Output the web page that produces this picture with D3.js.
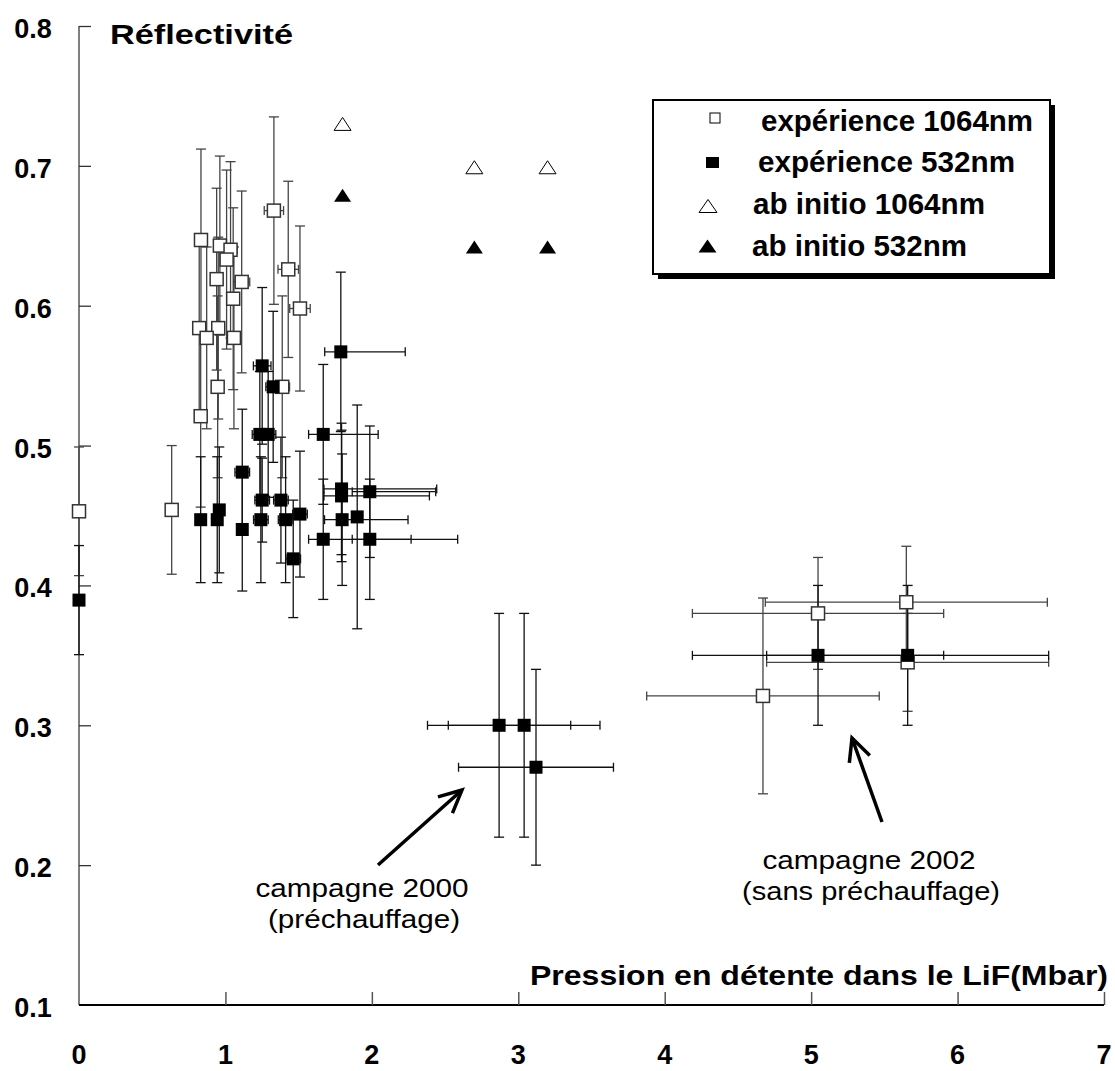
<!DOCTYPE html>
<html><head><meta charset="utf-8">
<script src="https://cdn.jsdelivr.net/npm/d3@7"></script>
<style>html,body{margin:0;padding:0;background:#fff;}svg{display:block;}</style>
</head><body>
<script>
// ---------- data ----------
const exp1064X  = [0, 0.633, 0.833, 0.962, 1.035, 1.008, 0.940, 1.111, 1.053, 1.331, 1.429, 1.509, 0.821, 0.951, 0.872, 1.058, 0.947, 1.388, 0.831, 4.671, 5.047, 5.650, 5.659];
const exp1064Y  = [0.453, 0.454, 0.647, 0.643, 0.640, 0.633, 0.619, 0.617, 0.605, 0.668, 0.626, 0.598, 0.584, 0.584, 0.577, 0.577, 0.542, 0.542, 0.521, 0.321, 0.380, 0.388, 0.345];
const exp1064EY = [0.046, 0.046, 0.065, 0.064, 0.063, 0.064, 0.065, 0.065, 0.065, 0.067, 0.063, 0.059, 0.065, 0.065, 0.065, 0.065, 0.065, 0.065, 0.065, 0.070, 0.040, 0.040, 0.035];
const exp1064EXL = [0, 0, 0, 0, 0.045, 0, 0, 0.055, 0, 0.066, 0.07, 0.07, 0, 0, 0, 0, 0, 0.05, 0, 0.794, 0.858, 0.963, 0.963];
const exp1064EXR = [0, 0, 0, 0, 0.045, 0, 0, 0.055, 0, 0.066, 0.07, 0.07, 0, 0, 0, 0, 0, 0.05, 0, 0.794, 0.858, 0.963, 0.963];

const exp532X  = [0, 0.831, 0.944, 0.958, 1.115, 1.115, 1.235, 1.292, 1.251, 1.242, 1.251, 1.326, 1.379, 1.411, 1.463, 1.509, 1.668, 1.668, 1.788, 1.793, 1.793, 1.797, 1.900, 1.986, 1.986, 2.869, 3.040, 3.121, 5.047, 5.659];
const exp532Y  = [0.3895, 0.447, 0.447, 0.454, 0.481, 0.440, 0.508, 0.508, 0.557, 0.447, 0.461, 0.542, 0.461, 0.447, 0.419, 0.451, 0.508, 0.433, 0.567, 0.469, 0.464, 0.447, 0.449, 0.467, 0.433, 0.300, 0.300, 0.270, 0.350, 0.350];
const exp532EY = [0.039, 0.045, 0.045, 0.045, 0.045, 0.044, 0.045, 0.045, 0.056, 0.045, 0.030, 0.054, 0.045, 0.045, 0.042, 0.045, 0.050, 0.043, 0.057, 0.047, 0.047, 0.047, 0.080, 0.047, 0.043, 0.080, 0.080, 0.070, 0.050, 0.050];
const exp532EXL = [0, 0, 0, 0, 0.05, 0, 0.052, 0, 0.06, 0.05, 0.05, 0.05, 0.05, 0.05, 0.05, 0.05, 0.10, 0.10, 0.11, 0.12, 0.12, 0.12, 0, 0.12, 0.12, 0.489, 0.518, 0.529, 0.858, 0.963];
const exp532EXR = [0, 0, 0, 0, 0.05, 0, 0, 0.052, 0.06, 0.05, 0.05, 0.05, 0.05, 0.05, 0.05, 0.05, 0.375, 0.60, 0.44, 0.65, 0.60, 0.45, 0, 0.45, 0.60, 0.489, 0.518, 0.529, 0.858, 0.963];

const abInitio1064X = [1.80, 2.70, 3.20];
const abInitio1064Y = [0.730, 0.699, 0.699];
const abInitio532X  = [1.80, 2.70, 3.20];
const abInitio532Y  = [0.679, 0.642, 0.642];

const xTicks = [0, 1, 2, 3, 4, 5, 6, 7];
const yTicks = [0.1, 0.2, 0.3, 0.4, 0.5, 0.6, 0.7, 0.8];
const legendLabels = ["expérience 1064nm", "expérience 532nm", "ab initio 1064nm", "ab initio 532nm"];

// ---------- drawing ----------
const W = 1115, H = 1071;
const svg = d3.select("body").append("svg").attr("width", W).attr("height", H)
  .style("font-family", "Arial, 'Liberation Sans', sans-serif");

const x = d3.scaleLinear().domain([0, 7]).range([79, 1104]);
const y = d3.scaleLinear().domain([0.1, 0.8]).range([1005, 26]);

// axes
const yAxis = d3.axisRight(y).tickValues(yTicks.slice(1)).tickSize(12).tickFormat("");
const gy = svg.append("g").attr("transform", `translate(${x(0)},0)`).call(yAxis);
gy.select(".domain").attr("stroke", "#555").attr("stroke-width", 1.5).attr("d", `M0,${y(0.8)}V${y(0.1)}`);
gy.selectAll(".tick line").attr("stroke", "#333").attr("stroke-width", 1.3);

const xAxis = d3.axisTop(x).tickValues(xTicks.slice(1)).tickSize(13).tickFormat("");
const gx = svg.append("g").attr("transform", `translate(0,${y(0.1)})`).call(xAxis);
gx.select(".domain").attr("stroke", "#000").attr("stroke-width", 2).attr("d", `M${x(0)},0H${x(7)}`);
gx.selectAll(".tick line").attr("stroke", "#555").attr("stroke-width", 1.5);

function stretchedText(g, txt, cx, baseline, size, width, weight, anchor) {
  const t = g.append("text").attr("x", cx).attr("y", baseline)
    .attr("font-size", size).attr("font-weight", weight || "bold")
    .attr("text-anchor", anchor || "middle").text(txt);
  if (width) t.attr("textLength", width).attr("lengthAdjust", "spacingAndGlyphs");
  return t;
}

// tick labels
yTicks.forEach(v => {
  stretchedText(svg, v.toFixed(1), 33, y(v) + 12, 27, null, "bold");
});
xTicks.forEach(v => {
  stretchedText(svg, String(v), x(v), 1064, 27, null, "bold");
});

// titles
stretchedText(svg, "Réflectivité", 110, 44, 28, 183, "bold", "start");
stretchedText(svg, "Pression en détente dans le LiF(Mbar)", 530, 985, 28, 578, "bold", "start");

// error bars
const ebG = svg.append("g");
function errorBars(X, Y, EY, EXL, EXR, color) {
  X.forEach((xv, i) => {
    const px = x(xv), py = y(Y[i]);
    if (EY[i] > 0) {
      const t = y(Y[i] + EY[i]), b = y(Y[i] - EY[i]);
      ebG.append("line").attr("x1", px).attr("x2", px).attr("y1", t).attr("y2", b).attr("stroke", color).attr("stroke-width", 1.3);
      ebG.append("line").attr("x1", px - 5).attr("x2", px + 5).attr("y1", t).attr("y2", t).attr("stroke", color).attr("stroke-width", 1.3);
      ebG.append("line").attr("x1", px - 5).attr("x2", px + 5).attr("y1", b).attr("y2", b).attr("stroke", color).attr("stroke-width", 1.3);
    }
    if (EXL[i] > 0 || EXR[i] > 0) {
      const l = x(xv - EXL[i]), r = x(xv + EXR[i]);
      ebG.append("line").attr("x1", l).attr("x2", r).attr("y1", py).attr("y2", py).attr("stroke", color).attr("stroke-width", 1.3);
      if (EXL[i] > 0) ebG.append("line").attr("x1", l).attr("x2", l).attr("y1", py - 4.5).attr("y2", py + 4.5).attr("stroke", color).attr("stroke-width", 1.3);
      if (EXR[i] > 0) ebG.append("line").attr("x1", r).attr("x2", r).attr("y1", py - 4.5).attr("y2", py + 4.5).attr("stroke", color).attr("stroke-width", 1.3);
    }
  });
}
errorBars(exp1064X, exp1064Y, exp1064EY, exp1064EXL, exp1064EXR, "#444");
errorBars(exp532X, exp532Y, exp532EY, exp532EXL, exp532EXR, "#111");

// markers
const S = 13;
svg.append("g").selectAll("rect").data(exp1064X).join("rect")
  .attr("x", (d) => x(d) - S / 2).attr("y", (d, i) => y(exp1064Y[i]) - S / 2)
  .attr("width", S).attr("height", S).attr("fill", "#fff").attr("stroke", "#333").attr("stroke-width", 1.5);
svg.append("g").selectAll("rect").data(exp532X).join("rect")
  .attr("x", (d) => x(d) - S / 2).attr("y", (d, i) => y(exp532Y[i]) - S / 2)
  .attr("width", S).attr("height", S).attr("fill", "#000");

const tri = (cx, cy, w, h) => `M${cx - w / 2},${cy + h / 2}L${cx},${cy - h / 2}L${cx + w / 2},${cy + h / 2}Z`;
svg.append("g").selectAll("path").data(abInitio1064X).join("path")
  .attr("d", (d, i) => tri(x(d), y(abInitio1064Y[i]), 17, 13)).attr("fill", "#fff").attr("stroke", "#000").attr("stroke-width", 1);
svg.append("g").selectAll("path").data(abInitio532X).join("path")
  .attr("d", (d, i) => tri(x(d), y(abInitio532Y[i]), 17, 13)).attr("fill", "#000");

// legend
const lg = svg.append("g");
lg.append("rect").attr("x", 658).attr("y", 105).attr("width", 397).attr("height", 174).attr("fill", "#000");
lg.append("rect").attr("x", 653).attr("y", 100).attr("width", 397).attr("height", 174).attr("fill", "#fff").attr("stroke", "#000").attr("stroke-width", 2);
lg.append("rect").attr("x", 710).attr("y", 113).attr("width", 10).attr("height", 10).attr("fill", "#fff").attr("stroke", "#000").attr("stroke-width", 1);
lg.append("rect").attr("x", 706).attr("y", 157).attr("width", 13).attr("height", 11).attr("fill", "#000");
lg.append("path").attr("d", tri(708, 206, 18, 13)).attr("fill", "#fff").attr("stroke", "#000").attr("stroke-width", 1);
lg.append("path").attr("d", tri(707.5, 246, 18, 13)).attr("fill", "#000");
const legX = [761, 758, 753, 752], legY = [131, 172, 214, 256], legW = [272, 257, 232, 215];
legendLabels.forEach((t, i) => stretchedText(lg, t, legX[i], legY[i], 29, legW[i], "bold", "start"));

// annotations
const an = svg.append("g");
stretchedText(an, "campagne 2000", 362, 897, 26, 213, "normal");
stretchedText(an, "(préchauffage)", 364, 928, 26, 192, "normal");
stretchedText(an, "campagne 2002", 869, 869, 26, 213, "normal");
stretchedText(an, "(sans préchauffage)", 871, 900, 26, 258, "normal");

function arrow(x1, y1, x2, y2) {
  const a = Math.atan2(y2 - y1, x2 - x1), L = 25, sp = 0.45;
  an.append("line").attr("x1", x1).attr("y1", y1).attr("x2", x2).attr("y2", y2).attr("stroke", "#000").attr("stroke-width", 3.5);
  an.append("path").attr("d", `M${x2 - L * Math.cos(a - sp)},${y2 - L * Math.sin(a - sp)}L${x2},${y2}L${x2 - L * Math.cos(a + sp)},${y2 - L * Math.sin(a + sp)}`)
    .attr("fill", "none").attr("stroke", "#000").attr("stroke-width", 3.5);
}
arrow(378, 865, 462, 790);
arrow(882, 822, 852, 738);
</script>
</body></html>
